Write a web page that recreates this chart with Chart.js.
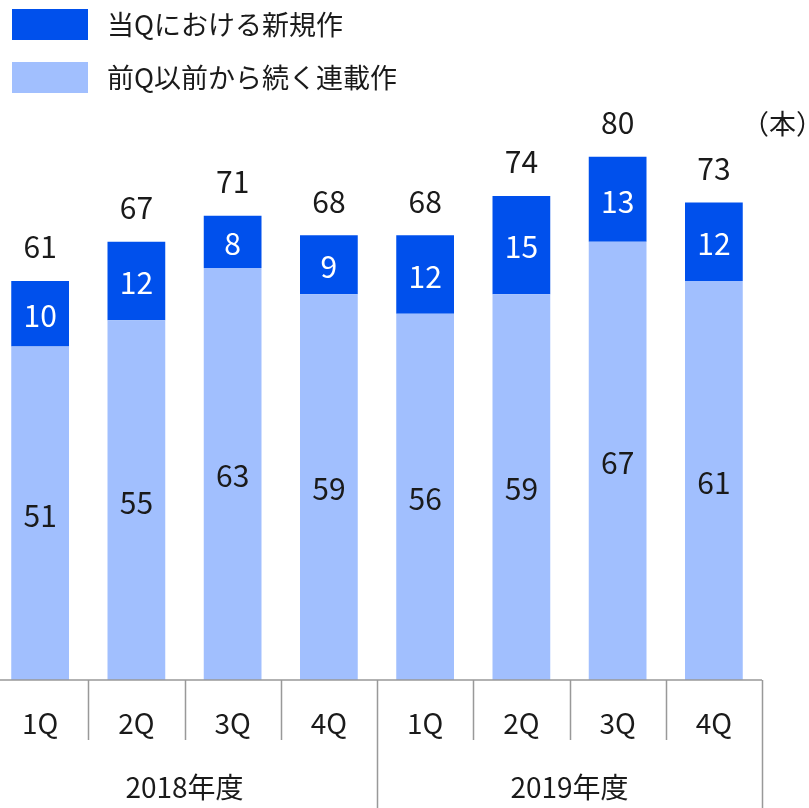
<!DOCTYPE html>
<html>
<head>
<meta charset="utf-8">
<script src="https://cdn.jsdelivr.net/npm/chart.js@4/dist/chart.umd.min.js"></script>
<style>
  html, body { margin: 0; padding: 0; background: #fff; overflow: hidden; }
  #wrap { position: absolute; left: -8px; top: 0; width: 817px; height: 808px; }
</style>
</head>
<body>
<div id="wrap"><canvas id="myChart" width="817" height="808"></canvas></div>
<script>
// data
const quarters = ['1Q', '2Q', '3Q', '4Q', '1Q', '2Q', '3Q', '4Q'];
const years = ['2018年度', '2019年度'];
const newWorks = [10, 12, 8, 9, 12, 15, 13, 12];
const continuing = [51, 55, 63, 59, 56, 59, 67, 61];
const seriesNames = ['当Qにおける新規作', '前Q以前から続く連載作'];
const unitLabel = '（本）';

const darkBlue = '#0050EC';
const lightBlue = '#A1BFFE';
const lineGray = '#999999';
const textColor = '#1a1a1a';
const fontFamily = '"Noto Sans CJK JP", "Noto Sans", sans-serif';

const labelsPlugin = {
  id: 'labelsPlugin',
  afterDatasetsDraw(chart) {
    const ctx = chart.ctx;
    const xs = chart.scales.x;
    const area = chart.chartArea;
    const lightMeta = chart.getDatasetMeta(0);
    const darkMeta = chart.getDatasetMeta(1);
    ctx.save();
    ctx.textAlign = 'center';
    ctx.textBaseline = 'middle';
    ctx.font = '30px ' + fontFamily;

    for (let i = 0; i < quarters.length; i++) {
      const lb = lightMeta.data[i];
      const db = darkMeta.data[i];
      ctx.fillStyle = textColor;
      ctx.fillText(continuing[i], lb.x, (lb.y + lb.base) / 2 + 2);
      ctx.fillStyle = '#ffffff';
      ctx.fillText(newWorks[i], db.x, (db.y + db.base) / 2 + 2);
      ctx.fillStyle = textColor;
      ctx.fillText(continuing[i] + newWorks[i], db.x, db.y - 34);
    }

    // bottom axis
    const w = xs.getPixelForValue(1) - xs.getPixelForValue(0);
    const base = area.bottom;
    ctx.strokeStyle = lineGray;
    ctx.lineWidth = 1.5;
    ctx.beginPath();
    ctx.moveTo(area.left, base);
    ctx.lineTo(xs.getPixelForValue(quarters.length - 1) + w / 2, base);
    for (let i = 0; i <= quarters.length; i++) {
      const x = Math.round(xs.getPixelForValue(i) - w / 2) + 0.5;
      const long = (i % 4 === 0);
      ctx.moveTo(x, base);
      ctx.lineTo(x, long ? chart.height : base + 60);
    }
    ctx.stroke();

    ctx.fillStyle = textColor;
    ctx.font = '28px ' + fontFamily;
    for (let i = 0; i < quarters.length; i++) {
      ctx.fillText(quarters[i], xs.getPixelForValue(i), base + 43);
    }
    for (let j = 0; j < years.length; j++) {
      const x0 = xs.getPixelForValue(j * 4) - w / 2;
      const x1 = xs.getPixelForValue(j * 4 + 3) + w / 2;
      ctx.fillText(years[j], (x0 + x1) / 2, base + 107);
    }

    // unit
    ctx.textAlign = 'right';
    ctx.font = '27px ' + fontFamily;
    ctx.fillText(unitLabel, chart.width + 14, 124);

    // legend
    const legendColors = [darkBlue, lightBlue];
    ctx.textAlign = 'left';
    ctx.font = '27px ' + fontFamily;
    for (let k = 0; k < seriesNames.length; k++) {
      const cy = 24 + k * 53;
      ctx.fillStyle = legendColors[k];
      ctx.fillRect(20, cy - 15, 76, 31);
      ctx.fillStyle = textColor;
      ctx.fillText(seriesNames[k], 115, cy + 1);
    }
    ctx.restore();
  }
};

const data = {
  labels: quarters,
  datasets: [
    {
      label: seriesNames[1],
      data: continuing,
      backgroundColor: lightBlue,
      barPercentage: 0.6,
      categoryPercentage: 1.0
    },
    {
      label: seriesNames[0],
      data: newWorks,
      backgroundColor: darkBlue,
      barPercentage: 0.6,
      categoryPercentage: 1.0
    }
  ]
};

const config = {
  type: 'bar',
  data: data,
  options: {
    responsive: false,
    animation: false,
    devicePixelRatio: 1,
    layout: { padding: { top: 26, bottom: 128, left: 0, right: 47 } },
    plugins: {
      legend: { display: false },
      tooltip: { enabled: false }
    },
    scales: {
      x: { stacked: true, display: false },
      y: { stacked: true, display: false, min: 0, max: 100 }
    }
  },
  plugins: [labelsPlugin]
};

const myChart = new Chart(document.getElementById('myChart'), config);
</script>
</body>
</html>
